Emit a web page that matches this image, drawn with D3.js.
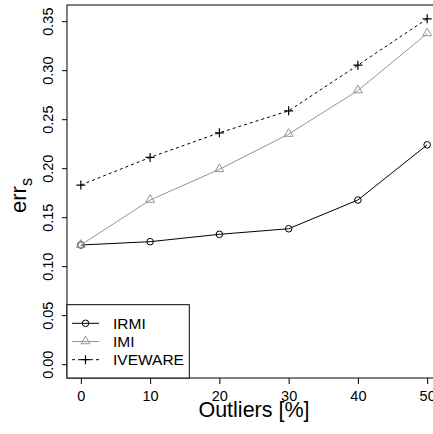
<!DOCTYPE html>
<html>
<head>
<meta charset="utf-8">
<script src="https://cdn.jsdelivr.net/npm/d3@7"></script>
<style>
  body { margin: 0; background: #fff; }
  svg { display: block; font-family: "Liberation Sans", Arial, sans-serif; }
</style>
</head>
<body>
<div id="chart"></div>
<script>
// outlier percentages and errors per method
const outliers = [0, 10, 20, 30, 40, 50];
const irmi = [0.1216, 0.125, 0.1325, 0.1382, 0.1675, 0.2238];
const imi = [0.1216, 0.1675, 0.1988, 0.2348, 0.2792, 0.3374];
const iveware = [0.1828, 0.211, 0.2361, 0.2585, 0.3051, 0.3524];
const xTicks = [0, 10, 20, 30, 40, 50];
const yTicks = [0, 0.05, 0.1, 0.15, 0.2, 0.25, 0.3, 0.35];

const series = [
    { name: "IRMI", values: irmi, color: "#000", dash: null, sym: "circle" },
    { name: "IMI", values: imi, color: "#959595", dash: null, sym: "triangle" },
    { name: "IVEWARE", values: iveware, color: "#000", dash: "3,3", sym: "plus" }
];

const W = 433, H = 434;
const plot = { left: 67, right: 441, top: 5, bottom: 378 };

// R style: 4% padding on each side of the data range
const xs = d3.scaleLinear().domain([-2, 52]).range([plot.left, plot.right]);
const ext = 0.04 * 0.3524;
const ys = d3.scaleLinear().domain([-ext, 0.3524 + ext]).range([plot.bottom, plot.top]);

const svg = d3.select("#chart").append("svg")
    .attr("width", W)
    .attr("height", H);

svg.append("rect").attr("width", W).attr("height", H).attr("fill", "#fff");

// draw the marker for a point
function marker(g, type, x, y, color) {
    if (type === "circle") {
        g.append("circle").attr("cx", x).attr("cy", y).attr("r", 3.3)
            .attr("fill", "none").attr("stroke", color).attr("stroke-width", 1);
    } else if (type === "triangle") {
        g.append("path")
            .attr("d", d3.symbol().type(d3.symbolTriangle).size(34)())
            .attr("transform", "translate(" + x + "," + (y - 0.3) + ")")
            .attr("fill", "none").attr("stroke", color).attr("stroke-width", 1);
    } else {
        let s = 4.5;
        g.append("path")
            .attr("d", "M" + (x - s) + "," + y + "H" + (x + s) + "M" + x + "," + (y - s) + "V" + (y + s))
            .attr("fill", "none").attr("stroke", color).attr("stroke-width", 1.2);
    }
}

// lines and points
const line = d3.line()
    .x((d, i) => xs(outliers[i]))
    .y(d => ys(d));

series.forEach(function(s) {
    let g = svg.append("g");
    g.append("path")
        .attr("d", line(s.values))
        .attr("fill", "none")
        .attr("stroke", s.color)
        .attr("stroke-width", 1)
        .attr("stroke-dasharray", s.dash);
    s.values.forEach(function(v, i) {
        marker(g, s.sym, xs(outliers[i]), ys(v), s.color);
    });
});

// x axis
const xAxis = svg.append("g")
    .attr("transform", "translate(0," + plot.bottom + ")")
    .call(d3.axisBottom(xs).tickValues(xTicks).tickSize(6).tickPadding(6.5).tickFormat(d3.format("d")));
xAxis.select(".domain").remove();
xAxis.selectAll("text").attr("font-size", 14.5).attr("fill", "#000").attr("font-family", null);

// y axis with rotated labels
const yAxis = svg.append("g")
    .attr("transform", "translate(" + plot.left + ",0)")
    .call(d3.axisLeft(ys).tickValues(yTicks).tickSize(5).tickFormat(d3.format(".2f")));
yAxis.select(".domain").remove();
yAxis.selectAll(".tick text")
    .attr("x", null).attr("dy", null)
    .attr("transform", "translate(-13.7,0) rotate(-90)")
    .attr("text-anchor", "middle")
    .attr("font-size", 14.5)
    .attr("fill", "#000")
    .attr("font-family", null);

// plot box
svg.append("rect")
    .attr("x", plot.left).attr("y", plot.top)
    .attr("width", plot.right - plot.left).attr("height", plot.bottom - plot.top)
    .attr("fill", "none").attr("stroke", "#000").attr("stroke-width", 1);

// axis titles
svg.append("text")
    .attr("x", (plot.left + plot.right) / 2)
    .attr("y", 417)
    .attr("text-anchor", "middle")
    .attr("font-size", 21.5)
    .text("Outliers [%]");

const yt = svg.append("text")
    .attr("transform", "translate(25.5," + ((plot.top + plot.bottom) / 2 + 4) + ") rotate(-90)")
    .attr("text-anchor", "middle")
    .attr("font-size", 22);
yt.append("tspan").text("err");
yt.append("tspan").attr("font-size", 16).attr("dy", 6).text("s");

// legend
const lg = svg.append("g");
lg.append("rect")
    .attr("x", plot.left).attr("y", 304.7)
    .attr("width", 122.3).attr("height", plot.bottom - 304.7)
    .attr("fill", "#fff").attr("stroke", "#000").attr("stroke-width", 1);
series.forEach(function(s, i) {
    let y = 323.3 + i * 18.2;
    lg.append("line")
        .attr("x1", 72).attr("x2", 99).attr("y1", y).attr("y2", y)
        .attr("stroke", s.color).attr("stroke-width", 1)
        .attr("stroke-dasharray", s.dash);
    marker(lg, s.sym, 85.5, y, s.color);
    lg.append("text")
        .attr("x", 113).attr("y", y + 5.6)
        .attr("font-size", 15.5)
        .text(s.name);
});
</script>
</body>
</html>
